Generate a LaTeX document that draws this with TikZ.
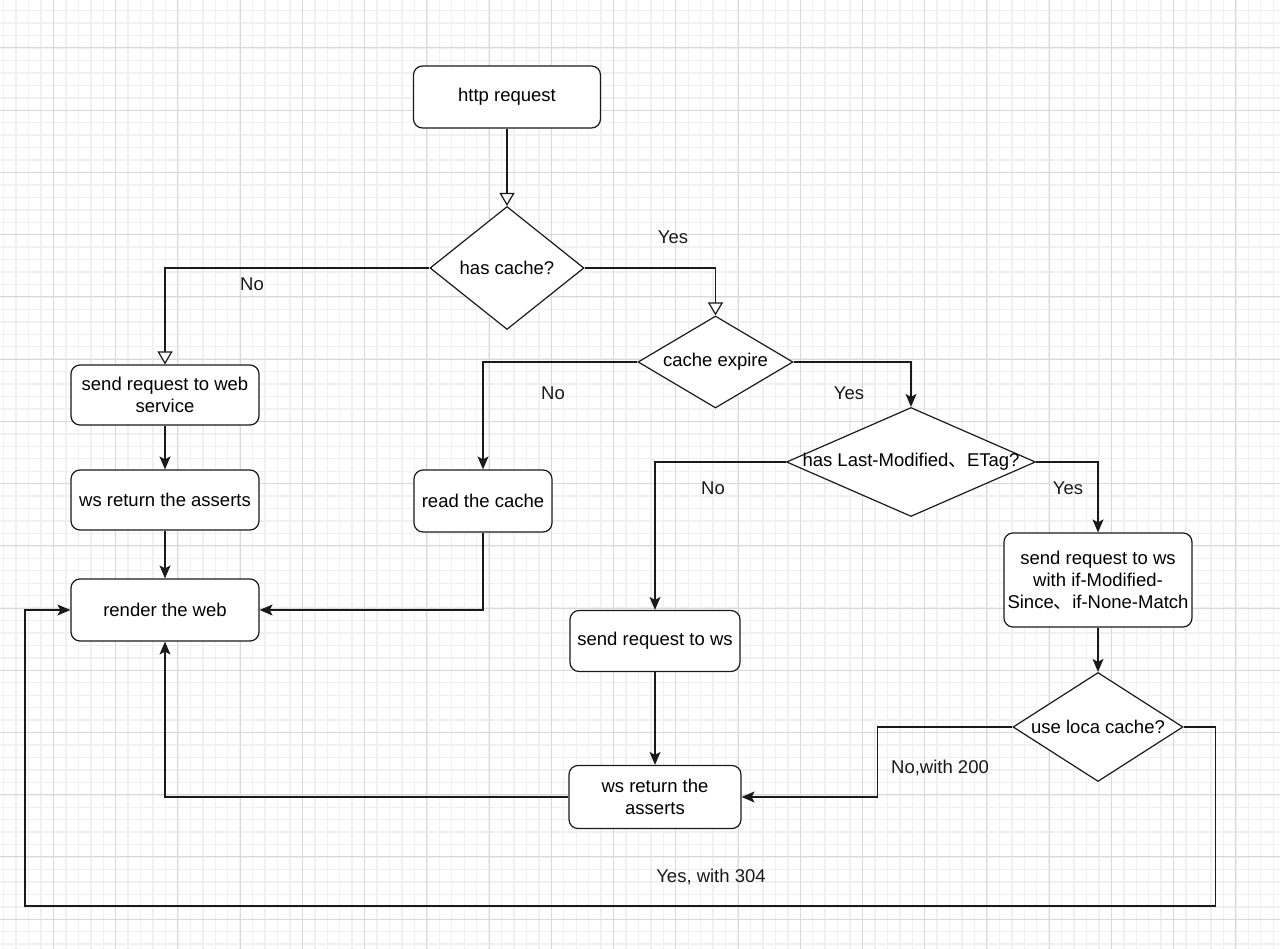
\documentclass[tikz,border=0pt]{standalone}
\usepackage{fontspec}
\setmainfont{Liberation Sans}
\newfontfamily\cjk{Noto Sans CJK SC}
\usetikzlibrary{positioning}
\usetikzlibrary{shapes.geometric, arrows.meta}

\definecolor{gridminor}{HTML}{F0F0F0}
\definecolor{gridmajor}{HTML}{D9D9D9}
\definecolor{ink}{HTML}{1A1A1A}

\tikzset{
  stepbox/.style={rectangle, rounded corners=9pt, draw=ink, line width=1.2pt, fill=white,
    align=center, inner sep=2pt, font=\fontsize{18.5}{22}\selectfont},
  decision/.style={diamond, draw=ink, line width=1.2pt, fill=white, inner sep=0pt,
    align=center, font=\fontsize{18.5}{22}\selectfont},
  flow/.style={draw=ink, line width=1.2pt, -{Stealth[length=13pt,width=11pt,inset=3pt]}},
  openflow/.style={draw=ink, line width=1.2pt, -{Triangle[open,fill=white,length=13pt,width=15pt]}},
  lbl/.style={font=\fontsize{18.5}{22}\selectfont, text=ink, inner sep=0pt}
}

\begin{document}
\begin{tikzpicture}[x=1pt,y=-1pt]
\useasboundingbox (0,0) rectangle (1280,949);
\fill[white] (0,0) rectangle (1280,949);
% grid
\foreach \i in {0,...,102} \draw[gridminor,line width=1.4pt] (3.7+\i*12.446,0) -- (3.7+\i*12.446,949);
\foreach \i in {0,...,76} \draw[gridminor,line width=1.4pt] (0,10.7+\i*12.446) -- (1280,10.7+\i*12.446);
\foreach \i in {0,...,20} \draw[gridmajor,line width=1pt] (53.5+\i*62.23,0) -- (53.5+\i*62.23,949);
\foreach \i in {0,...,14} \draw[gridmajor,line width=1pt] (0,48+\i*62.23) -- (1280,48+\i*62.23);

% nodes
\node[stepbox, minimum width=187pt, minimum height=62pt] (http) at (507,97) {http request};
\node[decision, minimum width=154pt, minimum height=123pt] (hascache) at (507,268) {\makebox[0pt]{has cache?}};
\node[decision, minimum width=155pt, minimum height=92pt] (expire) at (715.5,362) {\makebox[0pt]{cache expire}};
\node[decision, minimum width=249pt, minimum height=109pt] (lastmod) at (911,462)
  {\makebox[0pt]{has Last-Modified{\cjk 、}ETag?}};
\node[stepbox, minimum width=188pt, minimum height=60pt] (sendweb) at (165,395) {send request to web\\service};
\node[stepbox, minimum width=188pt, minimum height=60pt] (wsweb) at (165,500) {ws return the asserts};
\node[stepbox, minimum width=188pt, minimum height=62pt] (render) at (165,610) {render the web};
\node[stepbox, minimum width=138pt, minimum height=62pt] (readcache) at (483,501) {read the cache};
\node[stepbox, minimum width=170pt, minimum height=61pt] (sendws) at (655,641) {send request to ws};
\node[stepbox, minimum width=172pt, minimum height=63pt] (wsret) at (655,797) {ws return the\\asserts};
\node[stepbox, minimum width=188pt, minimum height=94pt] (sendif) at (1098,580)
  {send request to ws\\with if-Modified-\\Since{\cjk 、}if-None-Match};
\node[decision, minimum width=170pt, minimum height=109pt] (uselocal) at (1098,727) {\makebox[0pt]{use loca cache?}};
\coordinate (loop304) at (25,906);

% connectors
\draw[openflow] (http.south) -- (hascache.north);
\draw[openflow] (hascache.west) -| (sendweb.north);
\draw[openflow] (hascache.east) -| (expire.north);
\draw[flow] (sendweb.south) -- (wsweb.north);
\draw[flow] (wsweb.south) -- (render.north);
\draw[flow] (expire.west) -| (readcache.north);
\draw[flow] (readcache.south) |- (render.east);
\draw[flow] (expire.east) -| (lastmod.north);
\draw[flow] (lastmod.west) -| (sendws.north);
\draw[flow] (lastmod.east) -| (sendif.north);
\draw[flow] (sendif.south) -- (uselocal.north);
\draw[flow] (sendws.south) -- (wsret.north);
\draw[flow] (uselocal.west) -- ++(-135,0) |- (wsret.east);
\draw[flow] (wsret.west) -| (render.south);
\draw[flow] (uselocal.east) -- ++(32,0) |- (loop304) |- (render.west);

% labels
\node[lbl] at (673,237) {Yes};
\node[lbl] at (252,284) {No};
\node[lbl] at (553,393) {No};
\node[lbl] at (849,393) {Yes};
\node[lbl] at (713,488) {No};
\node[lbl] at (1068,488) {Yes};
\node[lbl] at (940,768) {No,with 200};
\node[lbl] at (711,877) {Yes, with 304};
\end{tikzpicture}
\end{document}
